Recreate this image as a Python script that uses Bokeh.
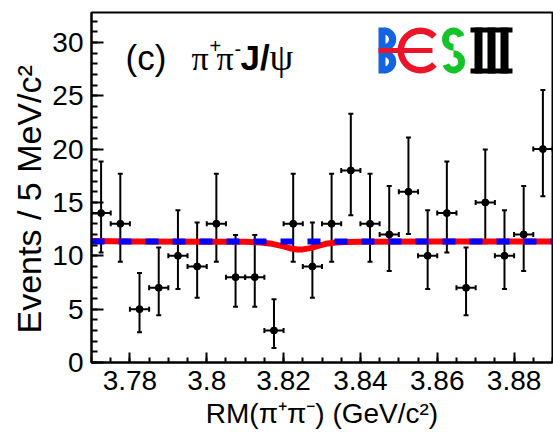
import math

from bokeh.plotting import figure
from bokeh.models import (ColumnDataSource, Whisker, TeeHead, Label, Range1d,
                          SingleIntervalTicker, NumeralTickFormatter, Title)
from bokeh.embed import file_html
from bokeh.resources import INLINE

# --- data: RM(pi+pi-) spectrum, 5 MeV bins -------------------------------
bin_centers = [3.7725, 3.7775, 3.7825, 3.7875, 3.7925, 3.7975,
               3.8025, 3.8075, 3.8125, 3.8175, 3.8225, 3.8275,
               3.8325, 3.8375, 3.8425, 3.8475, 3.8525, 3.8575,
               3.8625, 3.8675, 3.8725, 3.8775, 3.8825, 3.8875]
counts = [14, 13, 5, 7, 10, 9,
          13, 8, 8, 3, 13, 9,
          13, 18, 13, 12, 16, 10,
          14, 7, 15, 10, 12, 20]
# asymmetric (Poisson) error bars
err_lo = [3.70, 3.56, 2.16, 2.58, 3.11, 2.94,
          3.56, 2.77, 2.77, 1.63, 3.56, 2.94,
          3.56, 4.20, 3.56, 3.42, 3.96, 3.11,
          3.70, 2.58, 3.83, 3.11, 3.42, 4.43]
err_hi = [4.83, 4.69, 3.38, 3.77, 4.26, 4.11,
          4.69, 3.94, 3.94, 2.92, 4.69, 4.11,
          4.69, 5.32, 4.69, 4.55, 5.08, 4.26,
          4.83, 3.77, 4.95, 4.26, 4.55, 5.54]
half_bin = 0.0025

# total fit (red) and background component (blue dashed)
fit_x = [3.7700, 3.7800, 3.8000, 3.8100, 3.8140, 3.8170, 3.8200, 3.8220,
         3.8235, 3.8250, 3.8270, 3.8290, 3.8310, 3.8335, 3.8360, 3.8400,
         3.8600, 3.8900]
fit_y = [11.38, 11.34, 11.32, 11.31, 11.25, 11.12, 10.88, 10.68,
         10.59, 10.60, 10.72, 10.92, 11.12, 11.25, 11.30, 11.32,
         11.33, 11.33]
bkg_x = [3.7700, 3.8900]
bkg_y = [11.33, 11.33]

X_MIN, X_MAX = 3.77, 3.89
Y_MIN, Y_MAX = 0.0, 32.8

# --- layout ----------------------------------------------------------------
W, H = 553, 432
LEFT, RIGHT, TOP, BOTTOM = 91, 1, 12, 70
FRAME_W = W - LEFT - RIGHT
FRAME_H = H - TOP - BOTTOM


def sx(px):
    """canvas pixel column -> x data value"""
    return X_MIN + (px - LEFT) * (X_MAX - X_MIN) / FRAME_W


def sy(py):
    """canvas pixel row (from top) -> y data value"""
    return Y_MIN + (TOP + FRAME_H - py) * (Y_MAX - Y_MIN) / FRAME_H


p = figure(width=W, height=H,
           x_range=Range1d(X_MIN, X_MAX), y_range=Range1d(Y_MIN, Y_MAX),
           output_backend="svg", toolbar_location=None,
           min_border_left=LEFT, min_border_right=RIGHT,
           min_border_top=TOP, min_border_bottom=BOTTOM)
p.grid.visible = False
p.outline_line_color = "black"
p.outline_line_width = 2
p.outline_line_alpha = 1.0

FONT = "Liberation Sans"
SERIF = "Liberation Serif"

p.xaxis.ticker = SingleIntervalTicker(interval=0.02, num_minor_ticks=4)
p.xaxis.formatter = NumeralTickFormatter(format="0.[00]")
p.yaxis.ticker = SingleIntervalTicker(interval=5, num_minor_ticks=5)

for ax in (p.xaxis[0], p.yaxis[0]):
    ax.axis_line_width = 2
    ax.axis_line_color = "black"
    ax.major_tick_out = 0
    ax.minor_tick_out = 0
    ax.major_tick_line_width = 2
    ax.minor_tick_line_width = 2
    ax.major_tick_line_color = "black"
    ax.minor_tick_line_color = "black"
    ax.major_label_text_font = FONT
    ax.major_label_text_font_size = "28px"
    ax.major_label_text_color = "black"
    ax.axis_label_text_font = FONT
    ax.axis_label_text_font_style = "normal"
    ax.axis_label_text_color = "black"

p.xaxis.major_tick_in = 10
p.xaxis.minor_tick_in = 5
p.yaxis.major_tick_in = 12
p.yaxis.minor_tick_in = 6
p.xaxis.major_label_standoff = 8
p.yaxis.major_label_standoff = 8

p.xaxis.axis_label = "RM(π⁺π⁻) (GeV/c²)"
p.xaxis.axis_label_text_font_size = "28px"
p.xaxis.axis_label_standoff = 5

# vertical axis title, starting a little above the bottom of the frame
p.add_layout(Title(text="Events / 5 MeV/c²", align="left", offset=29,
                   text_font=FONT, text_font_size="34px",
                   text_font_style="normal", text_color="black",
                   standoff=3), "left")

# --- fit curves ------------------------------------------------------------
p.line(fit_x, fit_y, line_color="#ff0000", line_width=6, line_join="round")
p.line(bkg_x, bkg_y, line_color="#0000ff", line_width=6, line_dash="13 14")

# --- data points with error bars ---------------------------------------------
src = ColumnDataSource(dict(
    x=bin_centers,
    y=counts,
    lo=[c - e for c, e in zip(counts, err_lo)],
    hi=[c + e for c, e in zip(counts, err_hi)],
    xl=[x - half_bin for x in bin_centers],
    xr=[x + half_bin for x in bin_centers],
))


def tee():
    return TeeHead(size=5, line_width=2, line_color="black")


p.add_layout(Whisker(source=src, base="x", lower="lo", upper="hi",
                     dimension="height", line_width=2, line_color="black",
                     upper_head=tee(), lower_head=tee()))
p.add_layout(Whisker(source=src, base="y", lower="xl", upper="xr",
                     dimension="width", line_width=2, line_color="black",
                     upper_head=tee(), lower_head=tee()))
p.scatter(x="x", y="y", source=src, size=7, color="black")

# --- panel label: (c) pi+ pi- J/psi -------------------------------------------
def add_text(px, py, text, font, size, style="normal"):
    p.add_layout(Label(x=sx(px), y=sy(py), text=text, text_font=font,
                       text_font_size=size, text_font_style=style,
                       text_color="black", text_align="left",
                       text_baseline="middle"))


add_text(125, 57, "(c)", FONT, "35px")
add_text(191, 58, "π", SERIF, "34px")
add_text(209, 45, "+", FONT, "20px")
add_text(216, 58, "π", SERIF, "34px")
add_text(234, 48, "-", FONT, "20px")
add_text(240, 57, "J/", FONT, "35px", "bold")
add_text(269, 56, "ψ", SERIF, "38px")

# --- BESIII logo ---------------------------------------------------------------
BLUE, RED, GREEN = "#1464e1", "#eb1428", "#14c328"
rad = math.radians

# B
p.quad(left=[sx(378)], right=[sx(385)], top=[sy(27)], bottom=[sy(73)],
       color=BLUE, line_width=0)
p.annular_wedge(x=[sx(384), sx(384)], y=[sy(38.75), sy(61.25)],
                inner_radius=4.5, outer_radius=11.75,
                inner_radius_units="screen", outer_radius_units="screen",
                start_angle=rad(-90), end_angle=rad(90),
                color=BLUE, line_width=0)
# E (open C with a long bar)
p.annular_wedge(x=[sx(420)], y=[sy(50)], inner_radius=16.5, outer_radius=23,
                inner_radius_units="screen", outer_radius_units="screen",
                start_angle=rad(45), end_angle=rad(315),
                color=RED, line_width=0)
p.quad(left=[sx(378)], right=[sx(432)], top=[sy(47.5)], bottom=[sy(52.5)],
       color=RED, line_width=0)
# S
p.annular_wedge(x=[sx(453)], y=[sy(38.6)], inner_radius=4.6, outer_radius=11.6,
                inner_radius_units="screen", outer_radius_units="screen",
                start_angle=rad(20), end_angle=rad(270),
                color=GREEN, line_width=0)
p.annular_wedge(x=[sx(453)], y=[sy(61.4)], inner_radius=4.6, outer_radius=11.6,
                inner_radius_units="screen", outer_radius_units="screen",
                start_angle=rad(-160), end_angle=rad(90),
                color=GREEN, line_width=0)
# III
p.quad(left=[sx(470), sx(470), sx(474), sx(487), sx(500)],
       right=[sx(512), sx(512), sx(482), sx(495), sx(508)],
       top=[sy(27), sy(68), sy(27), sy(27), sy(27)],
       bottom=[sy(32), sy(73), sy(73), sy(73), sy(73)],
       color="black", line_width=0)

open("out.html", "w").write(file_html(p, INLINE))
